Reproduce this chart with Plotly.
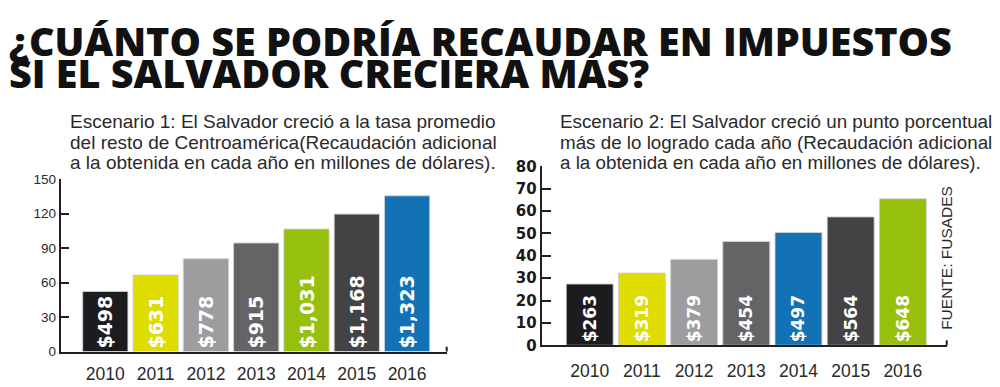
import plotly.graph_objects as go

# ---------------- data ----------------
years = ["2010", "2011", "2012", "2013", "2014", "2015", "2016"]

esc1_values = [52.3, 66.6, 80.7, 94.4, 106.5, 119.5, 135.4]
esc1_labels = ["$498", "$631", "$778", "$915", "$1,031", "$1,168", "$1,323"]
esc1_ticks = [0, 30, 60, 90, 120, 150]

esc2_values = [27.4, 32.3, 38.4, 46.4, 50.4, 57.4, 65.5]
esc2_labels = ["$263", "$319", "$379", "$454", "$497", "$564", "$648"]
esc2_ticks = [0, 10, 20, 30, 40, 50, 60, 70, 80]

title_lines = ["¿CUÁNTO SE PODRÍA RECAUDAR EN IMPUESTOS",
               "SI EL SALVADOR CRECIERA MÁS?"]
sub1_lines = ["Escenario 1: El Salvador creció a la tasa promedio",
              "del resto de Centroamérica(Recaudación adicional",
              "a la obtenida en cada año en millones de dólares)."]
sub2_lines = ["Escenario 2: El Salvador creció un punto porcentual",
              "más de lo logrado cada año (Recaudación adicional",
              "a la obtenida en cada año en millones de dólares)."]
source_text = "FUENTE: FUSADES"

# ---------------- styles ----------------
BLACK = "#1c1b1f"
YELLOW = "#dedc00"
LGRAY = "#9d9d9f"
MGRAY = "#646466"
GREEN = "#97bf0d"
DGRAY = "#434244"
BLUE = "#1371b6"
colors1 = [BLACK, YELLOW, LGRAY, MGRAY, GREEN, DGRAY, BLUE]
colors2 = [BLACK, YELLOW, LGRAY, MGRAY, BLUE, DGRAY, GREEN]
AXIS = "#231f20"
TEXT = "#2a2a2a"
SANS = "Liberation Sans, Arial, sans-serif"

W, H = 1000, 387


def px_x(p):
    return p / W


def px_y(p):
    return 1 - p / H


fig = go.Figure()

fig.add_trace(go.Bar(
    x=years, y=esc1_values, text=esc1_labels,
    marker=dict(color=colors1, line=dict(color="rgba(210,210,210,0.9)", width=1)),
    textposition="inside", insidetextanchor="start", textangle=-90,
    textfont=dict(family="DejaVu Sans", size=19, color="white", weight="bold"),
    xaxis="x", yaxis="y", hoverinfo="skip", cliponaxis=False,
))
fig.add_trace(go.Bar(
    x=years, y=esc2_values, text=esc2_labels,
    marker=dict(color=colors2, line=dict(color="rgba(210,210,210,0.9)", width=1)),
    textposition="inside", insidetextanchor="start", textangle=-90,
    textfont=dict(family="DejaVu Sans", size=17, color="white", weight="bold"),
    xaxis="x2", yaxis="y2", hoverinfo="skip", cliponaxis=False,
))

common_x = dict(type="category", showline=True, linecolor=AXIS, linewidth=2,
                ticks="", showgrid=False, zeroline=False,
                tickfont=dict(family=SANS, size=17.5, color=TEXT))
common_y = dict(showline=True, linecolor=AXIS, linewidth=2, ticks="inside",
                tickwidth=2, tickcolor=AXIS, showgrid=False, zeroline=False)

annotations = []
# title
title_y = [34, 67]
for line, yy in zip(title_lines, title_y):
    annotations.append(dict(text=line, x=px_x(7), y=px_y(yy), xref="paper", yref="paper",
                            xanchor="left", yanchor="middle", showarrow=False,
                            font=dict(family="Open Sans", size=39.5, color="#111111", weight=800)))
sub_y = [118.2, 139.7, 161.2]
for line, yy in zip(sub1_lines, sub_y):
    annotations.append(dict(text=line, x=px_x(68), y=px_y(yy), xref="paper", yref="paper",
                            xanchor="left", yanchor="middle", showarrow=False,
                            font=dict(family=SANS, size=19, color=TEXT)))
for line, yy in zip(sub2_lines, sub_y):
    annotations.append(dict(text=line, x=px_x(558), y=px_y(yy), xref="paper", yref="paper",
                            xanchor="left", yanchor="middle", showarrow=False,
                            font=dict(family=SANS, size=18.8, color=TEXT)))
annotations.append(dict(text=source_text, x=px_x(947), y=px_y(261), xref="paper", yref="paper",
                        xanchor="center", yanchor="middle", showarrow=False, textangle=-90,
                        font=dict(family=SANS, size=15.5, color=TEXT)))

shapes = []
for xr, yr in (("x domain", "y domain"), ("x2 domain", "y2 domain")):
    shapes.append(dict(type="line", xref=xr, yref=yr, x0=1, x1=1, y0=0, y1=0.028,
                       line=dict(color=AXIS, width=2)))

fig.update_layout(
    width=W, height=H, margin=dict(l=0, r=0, t=0, b=0),
    paper_bgcolor="white", plot_bgcolor="white", showlegend=False,
    bargap=0.1,
    xaxis=dict(domain=[px_x(60.7), px_x(446.7)], range=[-0.887, 6.787], anchor="y",
               ticklabelstandoff=5, **common_x),
    yaxis=dict(domain=[px_y(359.3), px_y(178.3)], range=[0, 150], tickvals=esc1_ticks,
               ticklen=8, anchor="x",
               tickfont=dict(family=SANS, size=13.5, color=TEXT),
               **common_y),
    xaxis2=dict(domain=[px_x(541.7), px_x(946.7)], range=[-0.92, 6.84], anchor="y2",
                ticklabelstandoff=9, **common_x),
    yaxis2=dict(domain=[px_y(352.7), px_y(165)], range=[0, 80], tickvals=esc2_ticks,
                ticklen=9, anchor="x2",
                tickfont=dict(family="DejaVu Sans", size=15, color="#1a1a1a", weight="bold"),
                **common_y),
    annotations=annotations,
    shapes=shapes,
)

fig.write_html("out.html", config={"displayModeBar": False},
               post_script="document.body.style.margin='0';document.body.style.overflow='hidden';")
